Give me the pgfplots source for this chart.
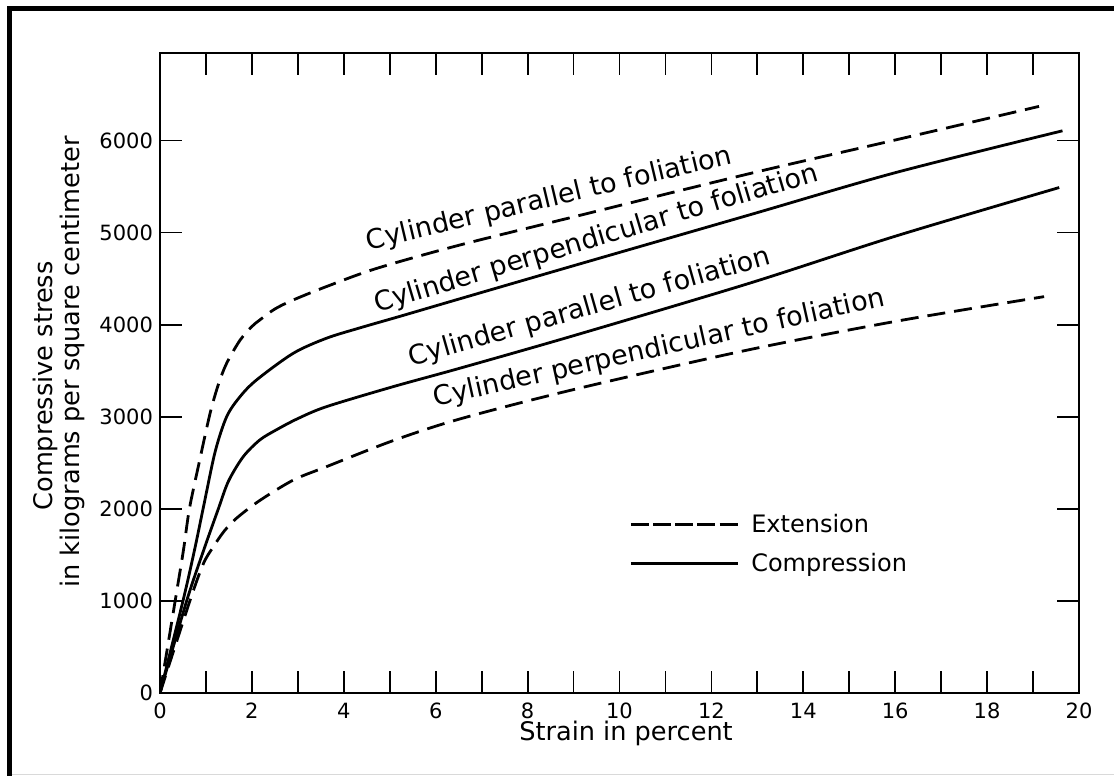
\documentclass[border=0pt]{standalone}
\usepackage{pgfplots}
\pgfplotsset{compat=1.18}
\usepackage{fontspec}
\setmainfont{DejaVu Sans}
\newcommand{\curvefont}{\fontsize{13.5}{15}\selectfont}
\newcommand{\axfont}{\fontsize{12.8}{15}\selectfont}
\begin{document}
\begin{tikzpicture}
\useasboundingbox (0,0) rectangle (557pt,388pt);
\fill[white] (0,0) rectangle (557pt,388pt);
\draw[line width=2.5pt, line join=miter] (4.75pt,0) -- (4.75pt,383.5pt) -- (557pt,383.5pt);
\draw[black!15, line width=0.6pt] (6pt,0.8pt) -- (557pt,0.8pt);
\begin{axis}[
  at={(80pt,41.5pt)}, anchor=south west,
  scale only axis, width=459.5pt, height=320pt,
  xmin=0, xmax=20, ymin=0, ymax=6950,
  xtick={0,2,...,20}, minor xtick={1,3,...,19},
  ytick={0,1000,...,6000},
  major tick length=11pt, minor tick length=11pt,
  tick align=inside,
  every tick/.style={line width=0.9pt, black},
  axis line style={line width=1.3pt},
  ticklabel style={font=\fontsize{10.5}{12}\selectfont},
  xticklabel style={yshift=-1.5pt},
  /pgf/number format/assume math mode=true,
  /pgf/number format/1000 sep={},
  legend style={draw=none, fill=none, at={(axis cs:13.28,1616)}, anchor=center,
    font=\fontsize{12}{14}\selectfont, row sep=5pt, column sep=4pt},
  legend cell align=left,
  legend image code/.code={\draw[#1] (0pt,0pt) -- (53.5pt,0pt);},
  every axis plot/.append style={line width=1.4pt, black},
]
\addlegendimage{line width=1.4pt, dash pattern=on 9pt off 2.1pt}
\addlegendentry{Extension}
\addlegendimage{line width=1.4pt}
\addlegendentry{Compression}

% Extension, cylinder parallel to foliation (upper dashed)
\addplot[smooth, tension=0.5, dash pattern=on 9pt off 4.5pt, forget plot] coordinates {
(0,0) (0.33,1000) (0.51,1550) (0.64,2000) (0.86,2520) (1.09,3037) (1.27,3350) (1.45,3580) (1.74,3830) (2.0,3980) (2.17,4050) (2.5,4170) (2.9,4268) (3.62,4413) (4.71,4610) (6.52,4864) (9,5170) (12.83,5640) (16,6005) (19.13,6370)};
% Compression, cylinder perpendicular to foliation (upper solid)
\addplot[smooth, tension=0.5, forget plot] coordinates {
(0,0) (0.5,1000) (0.75,1550) (0.95,2030) (1.2,2620) (1.45,3000) (1.74,3217) (2.1,3399) (2.9,3689) (3.62,3852) (4.35,3965) (5.22,4090) (6.52,4280) (9,4640) (12.83,5192) (16,5650) (19.64,6105)};
% Compression, cylinder parallel to foliation (lower solid)
\addplot[smooth, tension=0.5, forget plot] coordinates {
(0,0) (0.58,1000) (0.95,1550) (1.27,2000) (1.49,2300) (1.81,2565) (2.17,2747) (2.54,2860) (3.0,2980) (3.62,3109) (5.07,3326) (6.52,3526) (9,3880) (12.83,4450) (16,4960) (19.57,5489)};
% Extension, cylinder perpendicular to foliation (lower dashed)
\addplot[smooth, tension=0.5, dash pattern=on 9pt off 4.5pt, forget plot] coordinates {
(0,0) (0.65,1000) (0.94,1400) (1.15,1580) (1.4,1760) (1.67,1900) (2.17,2090) (2.9,2312) (3.62,2457) (5.07,2740) (6.52,2975) (9,3295) (12.7,3715) (16,4035) (19.24,4304)};

\node[rotate=13.4, anchor=base, font=\curvefont, inner sep=0pt] at (axis cs:8.51,5280) {Cylinder parallel to foliation};
\node[rotate=16.6, anchor=base, font=\curvefont, inner sep=0pt] at (axis cs:9.54,4850) {Cylinder perpendicular to foliation};
\node[rotate=15.85, anchor=base, font=\curvefont, inner sep=0pt] at (axis cs:9.40,4105) {Cylinder parallel to foliation};
\node[rotate=12.6, anchor=base, font=\curvefont, inner sep=0pt] at (axis cs:10.9,3660) {Cylinder perpendicular to foliation};
\end{axis}
\node[rotate=90, font=\axfont] at (22.5pt,195pt) {Compressive stress};
\node[rotate=90, font=\axfont] at (36pt,207pt) {in kilograms per square centimeter};
\node[font=\axfont, anchor=base] at (313pt,17.5pt) {Strain in percent};
\end{tikzpicture}
\end{document}
